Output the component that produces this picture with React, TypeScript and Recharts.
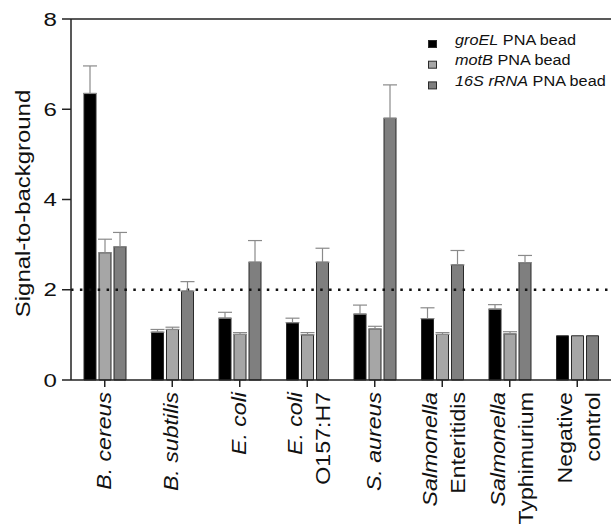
import React from 'react';
import { BarChart, Bar, XAxis, YAxis, ErrorBar, ReferenceLine } from 'recharts';

const categories = [
  'B. cereus', 'B. subtilis', 'E. coli', 'E. coli O157:H7', 'S. aureus',
  'Salmonella Enteritidis', 'Salmonella Typhimurium', 'Negative control',
];
// tick label lines: [text, italic]
const tickLines: [string, boolean][][][] = [
  [[['B. cereus', true]]],
  [[['B. subtilis', true]]],
  [[['E. coli', true]]],
  [[['E. coli', true]], [['O157:H7', false]]],
  [[['S. aureus', true]]],
  [[['Salmonella', true]], [['Enteritidis', false]]],
  [[['Salmonella', true]], [['Typhimurium', false]]],
  [[['Negative', false]], [['control', false]]],
];

const groEL = [6.35, 1.06, 1.37, 1.27, 1.46, 1.36, 1.57, 0.98];
const groELErr = [0.61, 0.06, 0.13, 0.1, 0.2, 0.24, 0.1, null];
const motB = [2.82, 1.12, 1.01, 1.0, 1.13, 1.01, 1.02, 0.98];
const motBErr = [0.3, 0.05, 0.04, 0.05, 0.06, 0.04, 0.05, null];
const rRNA = [2.95, 1.97, 2.61, 2.61, 5.8, 2.55, 2.6, 0.98];
const rRNAErr = [0.32, 0.21, 0.48, 0.31, 0.74, 0.32, 0.16, null];

const yTicks = [0, 2, 4, 6, 8];
const threshold = 2;

const legendItems: { parts: [string, boolean][]; fill: string }[] = [
  { parts: [['groEL', true], [' PNA bead', false]], fill: '#000000' },
  { parts: [['motB', true], [' PNA bead', false]], fill: '#a6a6a6' },
  { parts: [['16S rRNA', true], [' PNA bead', false]], fill: '#7f7f7f' },
];

const data = categories.map((name, i) => ({
  name,
  groEL: groEL[i],
  groELErr: groELErr[i] == null ? null : [0, groELErr[i]],
  motB: motB[i],
  motBErr: motBErr[i] == null ? null : [0, motBErr[i]],
  rRNA: rRNA[i],
  rRNAErr: rRNAErr[i] == null ? null : [0, rRNAErr[i]],
}));

const FONT = '"Liberation Sans", Arial, Helvetica, sans-serif';
const AXIS = '#222222';
const BAR_STROKE = '#2a2a2a';
const ERR = '#8a8a8a';

const XTick = (props: any) => {
  const { x, y, payload } = props;
  const idx = categories.indexOf(payload.value);
  const lines = tickLines[idx] || [];
  const n = lines.length;
  return (
    <g transform={`translate(${x},${y})`}>
      {lines.map((line, i) => {
        const base = n === 1 ? 6 : i === 0 ? -5 : 23;
        return (
          <text
            key={i}
            transform={`translate(${base},${392 - y}) rotate(-90) scale(1.13,1)`}
            textAnchor="end"
            fontSize={20.5}
            fontFamily={FONT}
            fill="#111"
          >
            {line.map(([t, it], j) => (
              <tspan key={j} fontStyle={it ? 'italic' : 'normal'}>{t}</tspan>
            ))}
          </text>
        );
      })}
    </g>
  );
};

const YTick = (props: any) => {
  const { x, y, payload } = props;
  return (
    <text
      transform={`translate(${x - 3},${y + 6.5}) scale(1.3,1)`}
      textAnchor="end"
      fontSize={18.5}
      fontFamily={FONT}
      fill="#111"
    >
      {payload.value}
    </text>
  );
};

const YLabel = (props: any) => {
  const vb = props.viewBox || { x: 0, y: 19, width: 71, height: 361 };
  const cy = vb.y + vb.height / 2 + 4;
  return (
    <text
      transform={`translate(30,${cy}) rotate(-90) scale(1.14,1)`}
      textAnchor="middle"
      fontSize={21}
      fontFamily={FONT}
      fill="#111"
    >
      Signal-to-background
    </text>
  );
};

const LegendContent = () => (
  <svg width={187} height={70} style={{ display: 'block' }}>
    {legendItems.map((it, i) => (
      <g key={i}>
        <rect x={4.5} y={10.5 + i * 20.7} width={8} height={7} fill={it.fill} stroke={BAR_STROKE} strokeWidth={1} />
        <text
          transform={`translate(31,${14.5 + i * 20.7}) scale(1.16,1)`}
          fontSize={14}
          fontFamily={FONT}
          fill="#111"
        >
          {it.parts.map(([t, ital], j) => (
            <tspan key={j} fontStyle={ital ? 'italic' : 'normal'}>{t}</tspan>
          ))}
        </text>
      </g>
    ))}
  </svg>
);

export default function App() {
  return (
    <div style={{ position: 'absolute', left: 0, top: 0, width: 611, height: 528, background: '#fff' }}>
      <BarChart
        width={611}
        height={528}
        data={data}
        margin={{ top: 19, right: 0, left: 0, bottom: 0 }}
        barSize={12}
        barGap={3}
      >
        <XAxis
          dataKey="name"
          interval={0}
          height={148}
          tickSize={7}
          tick={<XTick />}
          axisLine={{ stroke: AXIS, strokeWidth: 1.5 }}
          tickLine={{ stroke: AXIS, strokeWidth: 1.5 }}
        />
        <YAxis
          width={71}
          domain={[0, 8]}
          ticks={yTicks}
          tickSize={9}
          tick={<YTick />}
          axisLine={{ stroke: AXIS, strokeWidth: 1.5 }}
          tickLine={{ stroke: AXIS, strokeWidth: 1.5 }}
          label={{ content: <YLabel /> }}
        />
        <ReferenceLine y={8} stroke={AXIS} strokeWidth={1.5} />
        <ReferenceLine y={threshold} stroke="#111" strokeWidth={2.5} strokeDasharray="2.5 6.4" />
        <Bar dataKey="groEL" fill="#000000" stroke={BAR_STROKE} strokeWidth={1} isAnimationActive={false}>
          <ErrorBar dataKey="groELErr" width={7} stroke={ERR} strokeWidth={1.2} direction="y" />
        </Bar>
        <Bar dataKey="motB" fill="#a6a6a6" stroke={BAR_STROKE} strokeWidth={1} isAnimationActive={false}>
          <ErrorBar dataKey="motBErr" width={7} stroke={ERR} strokeWidth={1.2} direction="y" />
        </Bar>
        <Bar dataKey="rRNA" fill="#7f7f7f" stroke={BAR_STROKE} strokeWidth={1} isAnimationActive={false}>
          <ErrorBar dataKey="rRNAErr" width={7} stroke={ERR} strokeWidth={1.2} direction="y" />
        </Bar>
      </BarChart>
      <div style={{ position: 'absolute', left: 424, top: 30 }}>
        <LegendContent />
      </div>
    </div>
  );
}
